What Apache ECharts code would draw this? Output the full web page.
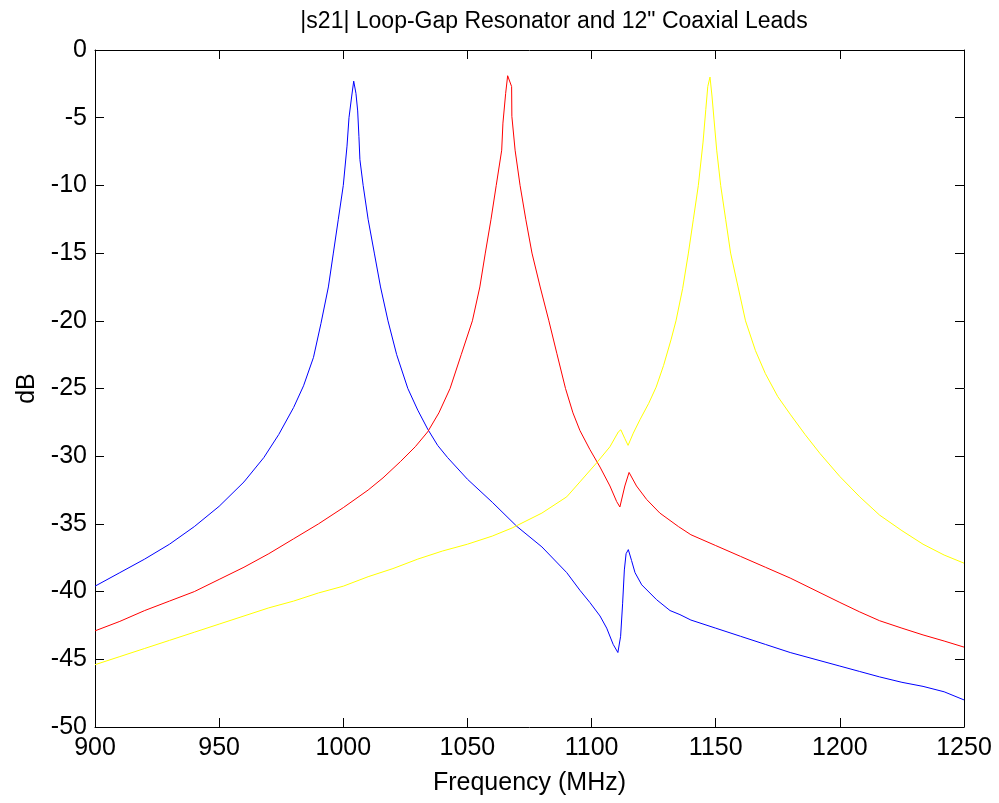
<!DOCTYPE html>
<html><head><meta charset="utf-8">
<script src="https://cdn.jsdelivr.net/npm/echarts@6/dist/echarts.min.js"></script>
<style>html,body{margin:0;padding:0;background:#fff}#c{width:999px;height:803px}</style>
</head><body><div id="c"></div>
<script>
const titleText = '|s21| Loop-Gap Resonator and 12" Coaxial Leads';
const xName = 'Frequency (MHz)';
const yName = 'dB';
const xTicks = [900, 950, 1000, 1050, 1100, 1150, 1200, 1250];
const yTicks = [0, -5, -10, -15, -20, -25, -30, -35, -40, -45, -50];

const blueFreq = [900,910,920,930,940,950,960,968,974,980,984,988,991,994,996,998,1000,1001.5,1002.3,1003.4,1004.2,1005.1,1005.8,1006.3,1006.7,1008,1010,1012.5,1015,1018,1021.5,1026,1030,1034,1038,1042,1050,1060,1070,1080,1090,1095.3,1099.3,1103.4,1106.1,1108.7,1110.6,1111.2,1111.7,1112.5,1113.2,1113.9,1114.8,1116.1,1117.5,1120.2,1126.2,1131.6,1135.6,1140,1150,1160,1170,1180,1190,1200,1208,1216,1225,1233.5,1242,1250];
const blueDb   = [-39.6,-38.6,-37.6,-36.5,-35.2,-33.7,-31.9,-30.1,-28.4,-26.4,-24.8,-22.7,-20.2,-17.5,-15.0,-12.5,-10.0,-7.1,-5.0,-3.4,-2.3,-3.2,-4.5,-6.4,-8.1,-10.0,-12.5,-15.0,-17.5,-20.0,-22.5,-25.0,-26.6,-28.0,-29.2,-30.1,-31.7,-33.4,-35.2,-36.7,-38.6,-39.9,-40.8,-41.8,-42.7,-43.9,-44.5,-44.6,-43.3,-40.9,-38.4,-37.2,-36.9,-37.7,-38.6,-39.5,-40.6,-41.4,-41.7,-42.1,-42.7,-43.3,-43.9,-44.5,-45.0,-45.5,-45.9,-46.3,-46.7,-47.0,-47.4,-48.0];

const redFreq = [900,910,920,930,940,950,960,970,980,990,1000,1010,1016,1023,1029,1034,1038.5,1043,1047.5,1052,1055,1057.2,1059.5,1061.6,1063.8,1064.3,1065.4,1066.2,1067.8,1067.9,1069.2,1071.2,1073.5,1076,1079.3,1082.8,1086,1089.5,1092.5,1095.3,1099.3,1103.4,1107.4,1110.1,1111.4,1113.4,1115.1,1118.1,1122.2,1127.5,1135,1140,1150,1160,1170,1180,1190,1200,1208,1216,1225,1233.5,1242,1250];
const redDb   = [-42.9,-42.2,-41.4,-40.7,-40.0,-39.1,-38.2,-37.2,-36.1,-35.0,-33.8,-32.5,-31.6,-30.4,-29.3,-28.2,-26.8,-25.0,-22.5,-20.0,-17.5,-15.0,-12.5,-10.0,-7.4,-5.4,-3.2,-1.9,-2.7,-4.9,-7.4,-10.0,-12.5,-15.0,-17.5,-20.0,-22.4,-25.0,-26.8,-28.1,-29.5,-30.8,-32.2,-33.35,-33.75,-32.2,-31.2,-32.2,-33.2,-34.2,-35.2,-35.8,-36.6,-37.4,-38.2,-39.0,-39.9,-40.8,-41.5,-42.15,-42.7,-43.2,-43.65,-44.1];

const yellowFreq = [900,910,920,930,940,950,960,970,980,990,1000,1010,1020,1030,1040,1050,1060,1068,1080,1090,1095.3,1102,1107.4,1110.8,1111.8,1113.4,1114.7,1116.8,1119.5,1123,1126,1129,1132,1134,1136.7,1139,1141,1143,1144.9,1146,1146.8,1147.7,1148.5,1149.3,1150.4,1152,1154,1156,1159,1162,1166,1170,1175,1180,1186,1192,1200,1208,1216,1225,1233.5,1242,1250];
const yellowDb   = [-45.4,-44.8,-44.2,-43.6,-43.0,-42.4,-41.8,-41.2,-40.7,-40.1,-39.6,-38.9,-38.3,-37.6,-37.0,-36.5,-35.9,-35.3,-34.2,-33.0,-31.9,-30.5,-29.3,-28.2,-28.05,-28.7,-29.2,-28.3,-27.3,-26.1,-24.9,-23.3,-21.4,-20.0,-17.6,-15.0,-12.5,-10.0,-6.8,-4.4,-2.7,-2.0,-3.4,-5.1,-7.4,-10.0,-12.5,-15.0,-17.5,-20.0,-22.2,-23.9,-25.6,-26.9,-28.4,-29.8,-31.5,-33.0,-34.35,-35.5,-36.5,-37.3,-37.9];

function pairs(xs, ys){ return xs.map((x,i)=>[x, ys[i]]); }

const FONT = '"Liberation Sans", Arial, Helvetica, sans-serif';
const FS = 25;
const chart = echarts.init(document.getElementById('c'), null, {renderer:'canvas'});
const axisLineStyle = {lineStyle:{color:'#000', width:1}};
const tick = {show:true, inside:true, length:9, lineStyle:{color:'#000'}};
const baseX = {type:'value', min:xTicks[0], max:xTicks[xTicks.length-1], interval:50,
  splitLine:{show:false}, axisLine:{show:true, onZero:false, ...axisLineStyle}, axisTick:tick};
const baseY = {type:'value', min:yTicks[yTicks.length-1], max:yTicks[0], interval:5,
  splitLine:{show:false}, axisLine:{show:true, onZero:false, ...axisLineStyle}, axisTick:tick};
chart.setOption({
  animation:false,
  backgroundColor:'#fff',
  title:{text:titleText, left:549, top:5, textAlign:'center',
    textStyle:{fontFamily:FONT, fontSize:23, fontWeight:'normal', color:'#000'}},
  grid:{left:95, right:35, top:50, bottom:76, containLabel:false},
  xAxis:[
    {...baseX, position:'bottom', name:xName, nameLocation:'middle', nameGap:44,
      nameTextStyle:{fontFamily:FONT, fontSize:FS, color:'#000'},
      axisLabel:{fontFamily:FONT, fontSize:FS, color:'#000', margin:9, formatter:(v)=>String(v)}},
    {...baseX, position:'top', axisLabel:{show:false}}
  ],
  yAxis:[
    {...baseY, position:'left', name:yName, nameLocation:'middle', nameGap:48, nameRotate:90,
      nameTextStyle:{fontFamily:FONT, fontSize:FS, color:'#000'},
      axisLabel:{fontFamily:FONT, fontSize:FS, color:'#000', margin:8, formatter:(v)=>String(v)}},
    {...baseY, position:'right', axisLabel:{show:false}}
  ],
  series:[
    {type:'line', data:pairs(blueFreq, blueDb), showSymbol:false, lineStyle:{color:'#0000ff', width:1}, itemStyle:{color:'#0000ff'}},
    {type:'line', data:pairs(redFreq, redDb), showSymbol:false, lineStyle:{color:'#ff0000', width:1}, itemStyle:{color:'#ff0000'}},
    {type:'line', data:pairs(yellowFreq, yellowDb), showSymbol:false, lineStyle:{color:'#ffff00', width:1}, itemStyle:{color:'#ffff00'}}
  ]
});
</script></body></html>
